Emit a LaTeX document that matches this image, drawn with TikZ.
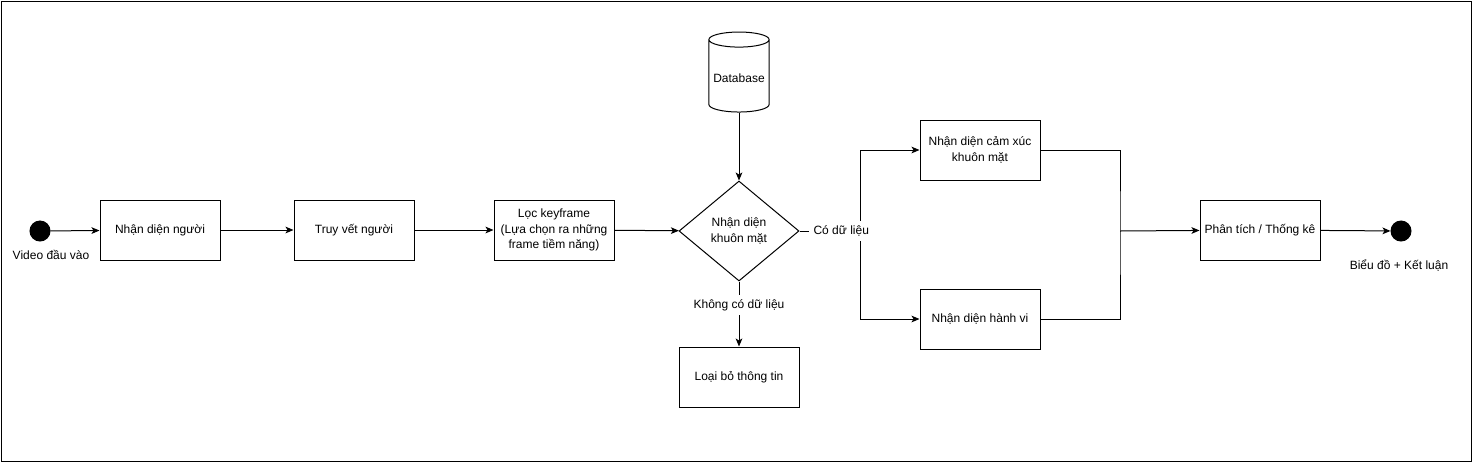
\documentclass[tikz,border=0pt]{standalone}
\usepackage{fontspec}
\setmainfont{Liberation Sans}
\usetikzlibrary{shapes.geometric,arrows.meta}

\tikzstyle{block} = [draw, rectangle, align=center,
    minimum height=45pt, minimum width=90pt]
\tikzstyle{decision} = [draw, diamond, align=center, aspect=1.2,
    inner sep=0pt, minimum height=75pt, minimum width=90pt]
\tikzstyle{store} = [draw, cylinder, shape border rotate=90, aspect=0.25,
    minimum width=45pt, minimum height=60pt]
\tikzstyle{state} = [draw, fill=black, circle, minimum size=15pt, inner sep=0pt]
\tikzstyle{caption} = [inner sep=1pt]
\tikzstyle{input} = [coordinate]

\begin{document}
\begin{tikzpicture}[x=0.75pt, y=-0.75pt, line width=0.75pt,
    >={Stealth[length=6pt,width=5pt,inset=1.5pt]},
    font=\fontsize{9}{11.5}\selectfont]
    \useasboundingbox (0,0) rectangle (1472,462);
    \draw (1,1) rectangle (1471,461);

    \node [state] at (40,231) (start) {};
    \node [caption] at (51,255) (startlbl) {Video đầu vào};
    \node [block] at (160,230) (detect) {Nhận diện người};
    \node [block] at (354,230) (track) {Truy vết người};
    \node [block] at (554,230) (keyframe) {Lọc keyframe\\(Lựa chọn ra những\\frame tiềm năng)};
    \node [store] at (739,78) (db) {Database};
    \node [decision] at (739,231) (face) {Nhận diện\\khuôn mặt};
    \node [block] at (739,377) (drop) {Loại bỏ thông tin};
    \node [block] at (980,150) (emotion) {Nhận diện cảm xúc\\khuôn mặt};
    \node [block] at (980,319) (action) {Nhận diện hành vi};
    \node [block] at (1260,230) (stats) {Phân tích / Thống kê};
    \node [state] at (1401,231) (end) {};
    \node [caption] at (1399,266) (endlbl) {Biểu đồ + Kết luận};

    \node [input, name=split] at (860,231) {};
    \node [input, name=merge] at (1120,231) {};

    \draw [->] (start) -- (detect);
    \draw [->] (detect) -- (track);
    \draw [->] (track) -- (keyframe);
    \draw [->] (keyframe) -- (face);
    \draw [->] (db) -- (face);
    \draw [->] (face) -- node[fill=white, pos=0.36] {Không có dữ liệu} (drop);
    \draw [->] (split) |- (emotion);
    \draw [->] (split) |- (action);
    \draw (face.east) -- node[fill=white, pos=0.69] {Có dữ liệu} (split);
    \draw (emotion.east) -| (merge) |- (action.east);
    \draw [->] (merge) -- (stats);
    \draw [->] (stats) -- (end);
\end{tikzpicture}
\end{document}
